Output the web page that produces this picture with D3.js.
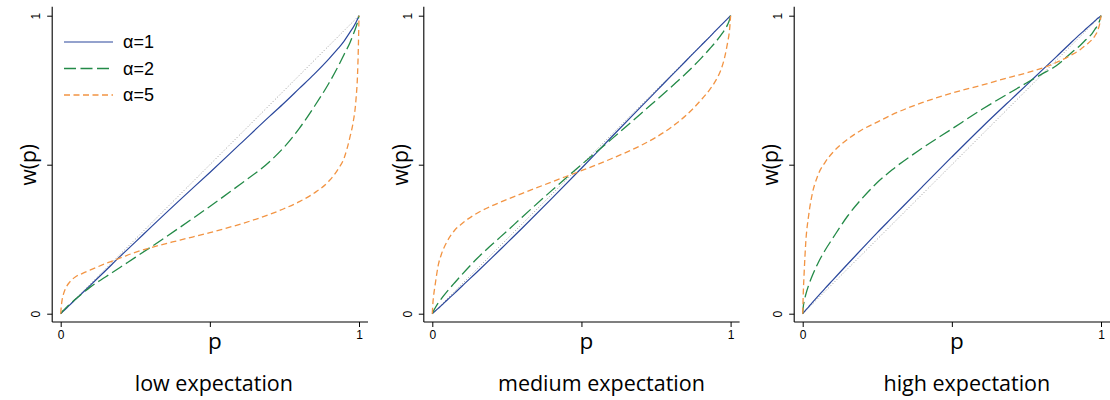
<!DOCTYPE html>
<html>
<head>
<meta charset="utf-8">
<script src="https://cdn.jsdelivr.net/npm/d3@7"></script>
<style>
  html, body { margin: 0; padding: 0; background: #fff; }
  svg { display: block; }
</style>
</head>
<body>
<svg id="chart" width="1110" height="400"></svg>
<script>
// Probability grid shared by every curve
const pGrid = [0, 0.002, 0.005, 0.01, 0.02, 0.03, 0.05, 0.075, 0.1, 0.15, 0.2, 0.25, 0.3, 0.4, 0.5,
  0.6, 0.7, 0.75, 0.8, 0.85, 0.9, 0.93, 0.95, 0.97, 0.98, 0.99, 0.995, 0.998, 1];

// low expectation
const lowA1 = [0, 0.002, 0.005, 0.0095, 0.019, 0.029, 0.048, 0.072, 0.096, 0.144, 0.193, 0.24, 0.288, 0.382, 0.474,
  0.568, 0.662, 0.708, 0.756, 0.804, 0.856, 0.89, 0.915, 0.945, 0.96, 0.978, 0.988, 0.995, 1];
const lowA2 = [0, 0.003, 0.007, 0.012, 0.022, 0.031, 0.049, 0.07, 0.09, 0.123, 0.156, 0.189, 0.222, 0.29, 0.36,
  0.433, 0.51, 0.56, 0.622, 0.695, 0.775, 0.83, 0.87, 0.91, 0.935, 0.962, 0.978, 0.99, 1];
const lowA5 = [0, 0.025, 0.048, 0.068, 0.092, 0.106, 0.124, 0.136, 0.147, 0.168, 0.187, 0.206, 0.221, 0.247, 0.272,
  0.3, 0.333, 0.353, 0.376, 0.405, 0.446, 0.485, 0.522, 0.594, 0.64, 0.72, 0.80, 0.9, 1];

// medium expectation
const medA1 = [0, 0.0018, 0.0045, 0.009, 0.018, 0.027, 0.046, 0.069, 0.093, 0.14, 0.188, 0.237, 0.286, 0.386, 0.488,
  0.592, 0.695, 0.746, 0.797, 0.848, 0.899, 0.929, 0.95, 0.97, 0.98, 0.99, 0.995, 0.998, 1];
const medA2 = [0, 0.005, 0.011, 0.02, 0.036, 0.05, 0.075, 0.104, 0.132, 0.185, 0.232, 0.277, 0.323, 0.413, 0.5,
  0.585, 0.672, 0.716, 0.76, 0.806, 0.856, 0.889, 0.912, 0.938, 0.953, 0.97, 0.982, 0.992, 1];
const medA5 = [0, 0.035, 0.065, 0.10, 0.163, 0.198, 0.243, 0.28, 0.303, 0.337, 0.362, 0.383, 0.403, 0.442, 0.48,
  0.52, 0.565, 0.592, 0.625, 0.665, 0.716, 0.752, 0.782, 0.825, 0.86, 0.91, 0.94, 0.97, 1];

// high expectation
const highA1 = [0, 0.0024, 0.006, 0.012, 0.023, 0.035, 0.057, 0.085, 0.112, 0.166, 0.219, 0.272, 0.323, 0.425, 0.526,
  0.625, 0.72, 0.767, 0.815, 0.862, 0.91, 0.938, 0.956, 0.974, 0.983, 0.992, 0.996, 0.998, 1];
const highA2 = [0, 0.024, 0.042, 0.063, 0.096, 0.122, 0.167, 0.213, 0.252, 0.327, 0.388, 0.44, 0.483, 0.555, 0.62,
  0.685, 0.745, 0.774, 0.803, 0.832, 0.875, 0.9, 0.92, 0.94, 0.955, 0.97, 0.982, 0.992, 1];
const highA5 = [0, 0.07, 0.14, 0.235, 0.33, 0.392, 0.462, 0.508, 0.54, 0.585, 0.618, 0.643, 0.668, 0.708, 0.74,
  0.767, 0.795, 0.808, 0.823, 0.843, 0.868, 0.886, 0.902, 0.92, 0.933, 0.953, 0.97, 0.985, 1];

const panelTitles = ["low expectation", "medium expectation", "high expectation"];
const panelSeries = [[lowA1, lowA2, lowA5], [medA1, medA2, medA5], [highA1, highA2, highA5]];
const seriesLabels = ["α=1", "α=2", "α=5"];
const tickValues = [0, 0.5, 1];
const tickLabels = ["0", "", "1"];

// Styling
const seriesStyle = [
  { color: "#2a479c", width: 1.2, dash: null },
  { color: "#238a47", width: 1.3, dash: "12,4.5" },
  { color: "#f29443", width: 1.3, dash: "6,3.5" }
];
const panelLeft = [60.7, 432.3, 802.7];
const captionShift = [4, 20, 15];
const plotW = 298.3, plotH = 298.0, plotTop = 15.7;
const axisY = 322;          // x-axis baseline
const yAxisGap = 8.5;       // y-axis sits left of p=0
const axisRightPad = 9;

const svg = d3.select("#chart");
const x = d3.scaleLinear().domain([0, 1]).range([0, plotW]);
const y = d3.scaleLinear().domain([0, 1]).range([plotH, 0]);

const line = d3.line()
  .x(d => x(d[0]))
  .y(d => y(d[1]))
  .curve(d3.curveMonotoneX);

panelSeries.forEach((series, i) => {
  const g = svg.append("g").attr("transform", `translate(${panelLeft[i]},${plotTop})`);

  // axes
  const xAxis = d3.axisBottom(x).tickValues(tickValues).tickSize(5).tickSizeOuter(0)
    .tickFormat((d, k) => tickLabels[k]);
  const gx = g.append("g").attr("transform", `translate(0,${axisY - plotTop})`).call(xAxis);
  gx.select(".domain").remove();
  gx.append("line")
    .attr("x1", -yAxisGap).attr("x2", plotW + axisRightPad)
    .attr("y1", 0).attr("y2", 0)
    .attr("stroke", "#000").attr("stroke-width", 1.1);
  gx.selectAll(".tick line").attr("stroke", "#000").attr("stroke-width", 1);
  gx.selectAll(".tick text")
    .attr("y", 8).attr("dy", "0.71em")
    .style("font-family", "'Liberation Sans', Arial, sans-serif")
    .style("font-size", "12px").attr("fill", "#000");

  const yAxis = d3.axisLeft(y).tickValues(tickValues).tickSize(5).tickSizeOuter(0)
    .tickFormat((d, k) => tickLabels[k]);
  const gy = g.append("g").attr("transform", `translate(${-yAxisGap},0)`).call(yAxis);
  gy.select(".domain").remove();
  gy.append("line")
    .attr("x1", 0).attr("x2", 0)
    .attr("y1", -9).attr("y2", axisY - plotTop)
    .attr("stroke", "#000").attr("stroke-width", 1.1);
  gy.selectAll(".tick line").attr("stroke", "#000").attr("stroke-width", 1);
  gy.selectAll(".tick text")
    .attr("x", null).attr("dy", null)
    .attr("transform", "translate(-12,0) rotate(-90)")
    .attr("text-anchor", "middle")
    .style("font-family", "'Liberation Sans', Arial, sans-serif")
    .style("font-size", "12px").attr("fill", "#000");

  // 45-degree reference line
  g.append("path")
    .datum([[0, 0], [1, 1]])
    .attr("d", d3.line().x(d => x(d[0])).y(d => y(d[1])))
    .attr("fill", "none")
    .attr("stroke", "#9a9a9a")
    .attr("stroke-width", 1)
    .attr("stroke-dasharray", "1,2");

  // weighting curves
  series.forEach((vals, s) => {
    const st = seriesStyle[s];
    g.append("path")
      .datum(pGrid.map((p, k) => [p, vals[k]]))
      .attr("d", line)
      .attr("fill", "none")
      .attr("stroke", st.color)
      .attr("stroke-width", st.width)
      .attr("stroke-dasharray", st.dash);
  });

  // axis titles
  g.append("text")
    .attr("x", x(0.5) + 5).attr("y", 333)
    .attr("text-anchor", "middle")
    .style("font-family", "'Open Sans', sans-serif")
    .style("font-size", "22.5px").attr("fill", "#000")
    .text("p");
  g.append("text")
    .attr("transform", `translate(${-yAxisGap - 16},${y(0.5)}) rotate(-90)`)
    .attr("text-anchor", "middle")
    .style("font-family", "'Open Sans', sans-serif")
    .style("font-size", "21px").attr("fill", "#000")
    .text("w(p)");

  // panel caption
  g.append("text")
    .attr("x", x(0.5) + captionShift[i]).attr("y", 375.3)
    .attr("text-anchor", "middle")
    .style("font-family", "'Open Sans', sans-serif")
    .style("font-size", "21.5px").attr("fill", "#000")
    .text(panelTitles[i]);

  // legend in the first panel
  if (i === 0) {
    const lg = g.append("g");
    seriesLabels.forEach((lab, s) => {
      const st = seriesStyle[s];
      const ly = 42 - plotTop + s * 26.5;
      lg.append("line")
        .attr("x1", 64 - panelLeft[0]).attr("x2", 113 - panelLeft[0])
        .attr("y1", ly).attr("y2", ly)
        .attr("stroke", st.color).attr("stroke-width", st.width)
        .attr("stroke-dasharray", st.dash);
      lg.append("text")
        .attr("x", 123 - panelLeft[0]).attr("y", ly).attr("dy", "0.35em")
        .style("font-family", "'Liberation Sans', Arial, sans-serif")
        .style("font-size", "18px").attr("fill", "#000")
        .text(lab);
    });
  }
});
</script>
</body>
</html>
